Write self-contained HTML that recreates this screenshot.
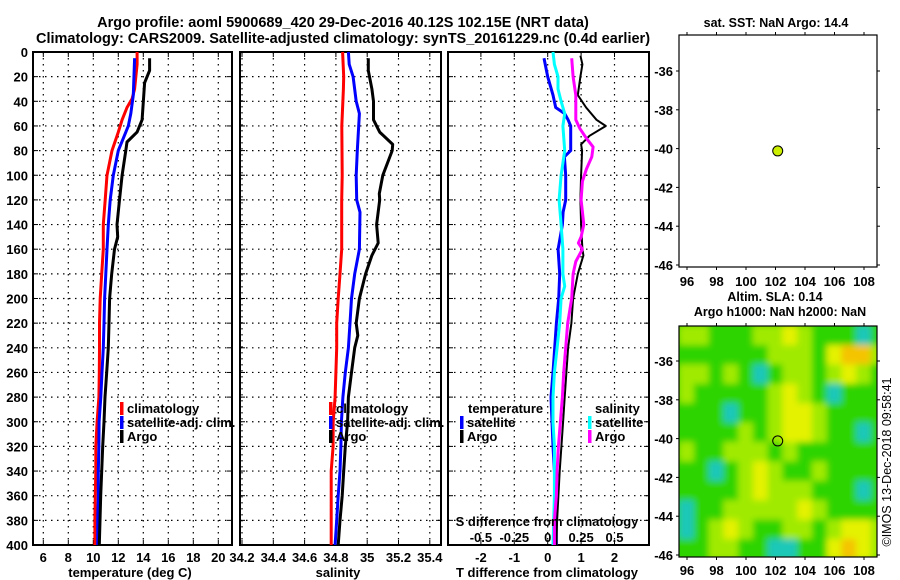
<!DOCTYPE html>
<html><head><meta charset="utf-8"><style>
html,body{margin:0;padding:0;background:#fff}
svg{display:block;font-family:"Liberation Sans",Arial,sans-serif;font-weight:bold}
</style></head><body>
<svg id="c" width="900" height="580" viewBox="0 0 900 580" xmlns="http://www.w3.org/2000/svg">
<defs>
<clipPath id="mapclip"><rect x="679" y="326" width="198" height="231"/></clipPath>
<filter id="blur" x="-5%" y="-5%" width="110%" height="110%"><feGaussianBlur stdDeviation="3.2"/></filter>
</defs>
<text x="343" y="27" text-anchor="middle" font-size="14.5">Argo profile: aoml 5900689_420 29-Dec-2016 40.12S 102.15E (NRT data)</text>
<text x="343" y="43" text-anchor="middle" font-size="14.5">Climatology: CARS2009. Satellite-adjusted climatology: synTS_20161229.nc (0.4d earlier)</text>
</svg>
<script>
// ---------- data ----------
const depthTicks=[0,20,40,60,80,100,120,140,160,180,200,220,240,260,280,300,320,340,360,380,400];
const tempTicks=[6,8,10,12,14,16,18,20];
const salTicks=[34.2,34.4,34.6,34.8,35,35.2,35.4];
const salTickLabels=["34.2","34.4","34.6","34.8","35","35.2","35.4"];
const tdiffTicks=[-2,-1,0,1,2];
const sdiffTicks=[-0.5,-0.25,0,0.25,0.5];
const sdiffTickLabels=["-0.5","-0.25","0","0.25","0.5"];
const lonTicks=[96,98,100,102,104,106,108];
const latTicks=[-36,-38,-40,-42,-44,-46];

const tClimDepth=[0,10,30,38,45,55,65,80,100,120,140,160,180,200,220,240,260,280,300,320,340,360,380,400];
const tClim=[13.5,13.5,13.3,13.1,12.7,12.3,12.0,11.5,11.1,10.95,10.8,10.8,10.67,10.55,10.5,10.5,10.48,10.45,10.3,10.2,10.2,10.16,10.13,10.13];
const tSatDepth=[5,35,50,60,70,80,100,120,140,160,180,200,220,240,260,280,300,320,340,360,380,400];
const tSat=[13.3,13.2,13.0,12.8,12.4,12.0,11.6,11.35,11.2,11.1,11.0,10.9,10.86,10.8,10.7,10.6,10.46,10.45,10.4,10.4,10.35,10.35];
const tArgoDepth=[5,15,25,55,65,73,80,100,120,140,150,160,180,200,220,240,260,280,300,320,340,360,380,400];
const tArgo=[14.5,14.5,14.1,13.9,13.5,12.7,12.6,12.3,12.1,11.9,11.95,11.7,11.47,11.3,11.26,11.2,11.07,10.94,10.86,10.75,10.67,10.59,10.54,10.48];

const sClimDepth=[0,20,30,60,100,120,140,160,180,200,220,240,260,280,300,320,340,360,380,400];
const sClim=[34.843,34.85,34.848,34.838,34.84,34.837,34.837,34.837,34.826,34.815,34.805,34.805,34.8,34.795,34.783,34.782,34.77,34.77,34.77,34.77];
const sSatDepth=[0,10,20,40,50,80,100,120,130,160,180,200,220,240,260,280,300,320,340,360,380,400];
const sSat=[34.88,34.885,34.91,34.93,34.95,34.937,34.93,34.933,34.954,34.95,34.92,34.9,34.89,34.88,34.86,34.845,34.835,34.832,34.826,34.815,34.805,34.795];
const sArgoDepth=[5,15,30,40,55,65,75,80,100,115,120,140,155,165,180,200,220,230,240,260,280,300,320,340,360,380,400];
const sArgo=[35.007,35.007,35.03,35.04,35.04,35.08,35.163,35.16,35.1,35.077,35.08,35.06,35.07,35.03,34.99,34.95,34.93,34.94,34.92,34.9,34.88,34.875,34.86,34.85,34.84,34.826,34.815];

const dTSatDepth=[5,20,35,45,50,55,60,80,85,100,120,130,140,160,180,200,220,240,260,280,300,320,340,360,380,400];
const dTSat=[-0.11,0,0.16,0.24,0.51,0.61,0.69,0.69,0.5,0.54,0.54,0.46,0.44,0.31,0.36,0.33,0.26,0.21,0.16,0.1,0.13,0.16,0.2,0.24,0.25,0.26];
const dTArgoDepth=[3,10,20,35,45,55,60,68,75,80,100,120,140,160,165,180,200,220,240,260,280,300,320,340,360,380,400];
const dTArgo=[0.98,1.04,0.98,0.9,1.15,1.46,1.74,1.25,1.0,1.03,1.0,0.98,1.0,1.04,1.07,0.9,0.76,0.71,0.61,0.56,0.51,0.46,0.41,0.36,0.32,0.28,0.26];
const dSSatDepth=[0,10,20,30,40,50,60,80,100,120,140,160,180,190,200,220,240,260,280,300,320,340,360,380,400];
const dSSat=[0.04,0.05,0.077,0.077,0.1,0.127,0.114,0.127,0.1,0.085,0.1,0.114,0.114,0.127,0.1,0.09,0.07,0.05,0.04,0.04,0.05,0.05,0.05,0.045,0.04];
const dSArgoDepth=[5,20,35,55,62,70,77,85,95,105,120,140,150,155,160,170,180,200,220,240,260,280,300,320,340,360,380,400];
const dSArgo=[0.18,0.19,0.21,0.21,0.24,0.29,0.34,0.33,0.29,0.26,0.25,0.27,0.25,0.23,0.26,0.21,0.19,0.18,0.15,0.135,0.12,0.11,0.095,0.08,0.07,0.065,0.05,0.05];

const argoLon=102.15, argoLat=-40.12;
// SLA map categories per 1-degree cell (0 cyan-teal .. 4 orange)
const slaLon0=95.5, slaLat0=-34.2;
const slaGrid=[
[2,2,1,1,1,2,2,3,2,1,1,1,0,1],
[1,1,1,1,1,1,2,2,2,1,3,4,4,2],
[2,2,1,2,1,0,1,2,2,1,2,3,2,1],
[2,1,1,1,1,1,2,3,2,1,0,1,1,1],
[1,1,1,0,1,1,2,3,3,2,1,1,1,1],
[1,1,1,1,2,1,2,3,3,2,1,1,0,1],
[2,1,1,2,2,2,1,2,1,1,1,1,1,1],
[1,1,0,1,2,3,2,1,1,2,1,1,1,1],
[1,1,1,1,2,3,2,2,2,1,1,1,0,1],
[0,1,1,2,2,2,2,2,3,2,1,1,1,1],
[0,1,2,3,2,1,1,2,2,1,2,3,3,2],
[1,1,2,2,1,1,0,0,1,1,3,4,3,2]];
const slaColors=["#1fc8b8","#2ed400","#a0ea00","#e4f200","#f4c400"];

// ---------- helpers ----------
const NS="http://www.w3.org/2000/svg";
const svg=document.getElementById('c');
function mk(tag,attrs,parent){const e=document.createElementNS(NS,tag);for(const k in attrs)e.setAttribute(k,attrs[k]);(parent||svg).appendChild(e);return e;}
function txt(x,y,s,size,anchor,parent){const t=mk('text',{x:x,y:y,'font-size':size,'text-anchor':anchor||'middle'},parent);t.textContent=s;return t;}

const Y0=52,Y1=545;
const yD=d=>Y0+(Y1-Y0)*d/400;
const xT=v=>43.3+(v-6)*12.5;
const xS=v=>242+(v-34.2)/0.2*31.3;
const xDT=v=>547.7+v*33.4;
const xDS=v=>547.7+v*4*33.4;
const mapLonX=v=>687+(v-96)*14.75;
const map1LatY=v=>71+(-36-v)*19.4;
const map2LatY=v=>361+(-36-v)*19.4;

function panelFrame(name,x0,x1,xTicksArr,xf){
  const g=mk('g',{});
  
  
  depthTicks.forEach(d=>{if(d>0&&d<400)mk('line',{x1:x0,x2:x1,y1:yD(d),y2:yD(d),stroke:'#000','stroke-width':1.2,'stroke-dasharray':'1.5,4.5'},g);});
  xTicksArr.forEach(v=>{const x=xf(v);mk('line',{x1:x,x2:x,y1:Y0,y2:Y1,stroke:'#000','stroke-width':1.2,'stroke-dasharray':'1.5,4.5'},g);
    mk('line',{x1:x,x2:x,y1:Y0,y2:Y0+5,stroke:'#000','stroke-width':1},g);mk('line',{x1:x,x2:x,y1:Y1,y2:Y1-5,stroke:'#000','stroke-width':1},g);});
  depthTicks.forEach(d=>{mk('line',{x1:x0,x2:x0+5,y1:yD(d),y2:yD(d),stroke:'#000'},g);mk('line',{x1:x1,x2:x1-5,y1:yD(d),y2:yD(d),stroke:'#000'},g);});
  mk('rect',{x:x0,y:Y0,width:x1-x0,height:Y1-Y0,fill:'none',stroke:'#000','stroke-width':2},g);
  return g;
}
function series(name,depths,vals,xf,color,w,parent){
  let d='';depths.forEach((dd,i)=>{d+=(i?'L':'M')+xf(vals[i]).toFixed(1)+','+yD(dd).toFixed(1);});
  const p=mk('path',{d:d,fill:'none',stroke:color,'stroke-width':w,'stroke-linejoin':'round'},parent);
  
  
  return p;
}
function legendEntry(name,x,y,color,label,parent){
  const g=mk('g',{},parent);
  
  
  mk('rect',{x:x,y:y-11,width:3.5,height:13,fill:color},g);
  txt(x+7,y,label,13,'start',g);
}

// ---------- panel 1 temperature ----------
const p1=panelFrame('temperature-panel',33,232,tempTicks,xT);
const ya=mk('g',{});


depthTicks.forEach(d=>txt(28,yD(d)+5,String(d),13,'end',ya));
const xa1=mk('g',{});


tempTicks.forEach(v=>txt(xT(v),562,String(v),13,'middle',xa1));
txt(130,577,'temperature (deg C)',13,'middle',xa1);
series('temp-climatology-line',tClimDepth,tClim,xT,'#ff0000',3,p1);
series('temp-satellite-line',tSatDepth,tSat,xT,'#0000ff',3,p1);
series('temp-argo-line',tArgoDepth,tArgo,xT,'#000',3,p1);
legendEntry('legend-climatology',120,413,'#ff0000','climatology',p1);
legendEntry('legend-satellite-adj',120,427,'#0000ff','satellite-adj. clim.',p1);
legendEntry('legend-argo',120,441,'#000','Argo',p1);

// ---------- panel 2 salinity ----------
const p2=panelFrame('salinity-panel',240,441,salTicks,xS);
const xa2=mk('g',{});


salTicks.forEach((v,i)=>txt(xS(v),562,salTickLabels[i],13,'middle',xa2));
txt(338,577,'salinity',13,'middle',xa2);
series('sal-climatology-line',sClimDepth,sClim,xS,'#ff0000',3,p2);
series('sal-satellite-line',sSatDepth,sSat,xS,'#0000ff',3,p2);
series('sal-argo-line',sArgoDepth,sArgo,xS,'#000',3,p2);
legendEntry('legend-climatology-2',329,413,'#ff0000','climatology',p2);
legendEntry('legend-satellite-adj-2',329,427,'#0000ff','satellite-adj. clim.',p2);
legendEntry('legend-argo-2',329,441,'#000','Argo',p2);

// ---------- panel 3 differences ----------
const p3=panelFrame('difference-panel',448,649,tdiffTicks,xDT);
series('tdiff-satellite-line',dTSatDepth,dTSat,xDT,'#0000ff',3,p3);
series('tdiff-argo-line',dTArgoDepth,dTArgo,xDT,'#000',2,p3);
series('sdiff-satellite-line',dSSatDepth,dSSat,xDS,'#00ffff',3,p3);
series('sdiff-argo-line',dSArgoDepth,dSArgo,xDS,'#ff00ff',3,p3);
txt(468,413,'temperature',13,'start',p3);
legendEntry('legend-t-satellite',460,427,'#0000ff','satellite',p3);
legendEntry('legend-t-argo',460,441,'#000','Argo',p3);
txt(595,413,'salinity',13,'start',p3);
legendEntry('legend-s-satellite',588,427,'#00ffff','satellite',p3);
legendEntry('legend-s-argo',588,441,'#ff00ff','Argo',p3);
const sax=mk('g',{});


txt(547,526,'S difference from climatology',13,'middle',sax);
sdiffTicks.forEach((v,i)=>txt(xDS(v),542,sdiffTickLabels[i],13,'middle',sax));
const tax=mk('g',{});


tdiffTicks.forEach(v=>txt(xDT(v),562,String(v),13,'middle',tax));
txt(547,577,'T difference from climatology',13,'middle',tax);

// ---------- map frames ----------
function mapAxes(name,top,bottom,latY,labelY){
  const g=mk('g',{});
  
  
  mk('rect',{x:679,y:top,width:198,height:bottom-top,fill:'none',stroke:'#000','stroke-width':1.2},g);
  lonTicks.forEach(v=>{const x=mapLonX(v);mk('line',{x1:x,x2:x,y1:top,y2:top-3,stroke:'#000'},g);mk('line',{x1:x,x2:x,y1:bottom,y2:bottom+3,stroke:'#000'},g);txt(x,labelY,String(v),13,'middle',g);});
  latTicks.forEach(v=>{const y=latY(v);mk('line',{x1:679,x2:676,y1:y,y2:y,stroke:'#000'},g);mk('line',{x1:877,x2:880,y1:y,y2:y,stroke:'#000'},g);txt(673,y+5,String(v),13,'end',g);});
  return g;
}
const m1=mapAxes('sst-map',35,267,map1LatY,286);
txt(776,27,'sat. SST: NaN Argo: 14.4',12.5,'middle',m1);
const dot=mk('circle',{cx:mapLonX(argoLon),cy:map1LatY(argoLat),r:5,fill:'#ccee00',stroke:'#000','stroke-width':1},m1);



// SLA heatmap
const hm=mk('g',{'clip-path':'url(#mapclip)'});


const hmInner=mk('g',{filter:'url(#blur)'},hm);
mk('rect',{x:660,y:300,width:240,height:280,fill:slaColors[1]},hmInner);
slaGrid.forEach((row,r)=>row.forEach((v,c)=>{
  const x0=mapLonX(slaLon0+c),x1=mapLonX(slaLon0+c+1);
  const y0=map2LatY(slaLat0-r),y1=map2LatY(slaLat0-r-1);
  const cell=mk('rect',{x:x0-0.5,y:y0-0.5,width:x1-x0+1,height:y1-y0+1,fill:slaColors[v]},hmInner);
  
  
}));
const m2=mapAxes('sla-map',326,557,map2LatY,575);
txt(775,301,'Altim. SLA: 0.14',12.5,'middle',m2);
txt(780,316,'Argo h1000: NaN h2000: NaN',12.5,'middle',m2);
const ring=mk('circle',{cx:mapLonX(argoLon),cy:map2LatY(argoLat),r:5,fill:'none',stroke:'#000','stroke-width':1},m2);


const cp=mk('text',{x:0,y:0,'font-size':12.5,'text-anchor':'middle',transform:'translate(891,462) rotate(-90)','font-weight':'normal'});
cp.textContent='©IMOS 13-Dec-2018 09:58:41';


</script>
</body></html>
